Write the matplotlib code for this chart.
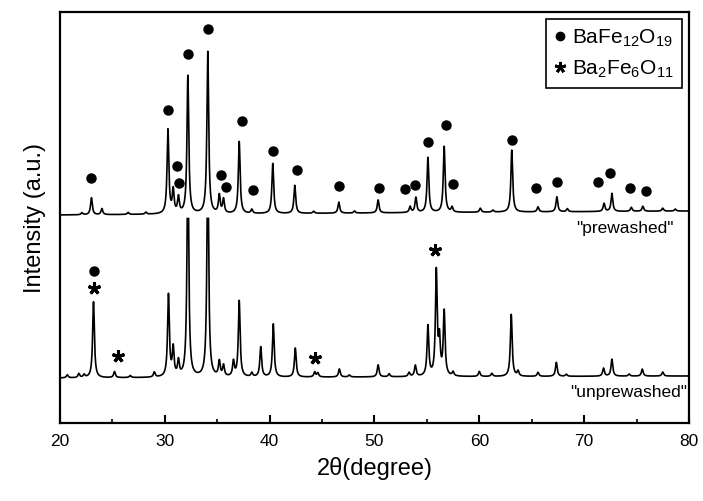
import numpy as np
import matplotlib
matplotlib.use("Agg")
import matplotlib.pyplot as plt
from matplotlib.lines import Line2D

plt.rcParams['font.family'] = ['Liberation Sans', 'DejaVu Sans']
plt.rcParams['mathtext.default'] = 'regular'

# peaks: position (2theta) and height above background (a.u.)
pre_pos = [22.1, 23.0, 24.0, 26.5, 28.2, 30.3, 30.8, 31.3, 32.2, 34.1, 35.2, 35.6,
           37.1, 38.3, 40.3, 42.4, 44.2, 46.6, 48.1, 50.35, 53.4, 53.95, 55.1,
           56.65, 57.4, 60.1, 61.3, 63.1, 65.6, 67.4, 68.4, 71.9, 72.65, 74.5,
           75.6, 77.5, 78.7]
pre_int = [2, 17, 6, 2, 2, 84, 23, 16, 138, 162, 18, 14,
           72, 4, 50, 28, 2, 11, 2, 13, 6, 15, 55,
           66, 5, 4, 2, 62, 5, 15, 3, 8, 18, 4,
           5, 3, 2]

unpre_pos = [20.7, 21.8, 22.3, 23.2, 25.2, 26.7, 29.0, 30.35, 30.8, 31.3, 32.2,
             34.1, 35.2, 35.6, 36.55, 37.1, 38.3, 39.15, 40.35, 42.45, 44.3,
             44.6, 46.65, 47.6, 50.35, 51.4, 53.3, 53.9, 55.1, 55.9, 56.2,
             56.65, 57.5, 60.0, 61.2, 63.05, 63.7, 65.6, 67.35, 68.3, 71.85,
             72.65, 74.3, 75.55, 77.5]
unpre_int = [3, 4, 3, 76, 6, 2, 5, 82, 28, 15, 220,
             220, 15, 11, 15, 76, 4, 30, 53, 29, 5,
             4, 8, 2, 12, 3, 4, 11, 50, 104, 34,
             64, 4, 5, 3, 62, 5, 4, 14, 2, 8,
             17, 2, 7, 4]

# background level at 20 and 80 degrees
pre_bg = [208, 212]
unpre_bg = [45, 47]

# phase markers
dot_x = [23.0, 30.3, 31.2, 31.35, 32.2, 34.1, 35.35, 35.85, 37.35, 38.45, 40.3,
         42.6, 46.6, 50.4, 52.9, 53.9, 55.1, 56.8, 57.5, 63.1, 65.4, 67.4,
         71.3, 72.5, 74.4, 75.9, 23.25]
dot_y = [245, 313, 257, 240, 369, 394, 248, 236, 302, 233, 272,
         253, 237, 235, 234, 238, 281, 298, 239, 283, 235, 241,
         241, 250, 235, 232, 152]
star_x = [23.25, 25.5, 44.3, 55.75]
star_y = [135, 67, 65, 173]

tt = np.arange(20, 80.001, 0.01)


def pattern(pos, inten, bg, w=0.1):
    y = np.interp(tt, [20, 80], bg)
    for p, h in zip(pos, inten):
        y = y + h / (1 + ((tt - p) / w) ** 2)
    return y


upper = pattern(pre_pos, pre_int, pre_bg)
lower = pattern(unpre_pos, unpre_int, unpre_bg)

fig = plt.figure(figsize=(7.03, 5.01), dpi=100)
ax = fig.add_axes([0.0853, 0.1557, 0.8947, 0.8203])

ax.plot(tt, lower, color='black', lw=1.2, zorder=2)
ax.fill_between(tt, upper, np.interp(tt, [20, 80], pre_bg) - 3,
                color='white', zorder=2.5, lw=0)
ax.plot(tt, upper, color='black', lw=1.2, zorder=3)

ax.plot(dot_x, dot_y, 'o', color='black', ms=6.5, zorder=4)
ax.plot(star_x, star_y, linestyle='none', marker=(5, 2, 0), color='black',
        ms=9, mew=2.2, zorder=4)

ax.text(78.5, 195, '"prewashed"', ha='right', va='center', fontsize=12.5)
ax.text(79.8, 30, '"unprewashed"', ha='right', va='center', fontsize=12.5)

ax.set_xlim(20, 80)
ax.set_ylim(0, 411)
ax.set_xticks(range(20, 81, 10))
ax.set_xticks(range(25, 80, 10), minor=True)
ax.set_yticks([])
ax.tick_params(axis='x', which='major', direction='in', length=6, width=1.5,
               labelsize=12.5, pad=8)
ax.tick_params(axis='x', which='minor', direction='in', length=3, width=1.2)
for s in ax.spines.values():
    s.set_linewidth(1.6)

ax.set_xlabel('2θ(degree)', fontsize=17, labelpad=6)
ax.set_ylabel('Intensity (a.u.)', fontsize=17, labelpad=10)

handles = [Line2D([], [], linestyle='none', marker='o', color='black', ms=6),
           Line2D([], [], linestyle='none', marker=(5, 2, 0), color='black',
                  ms=8, mew=2)]
leg = ax.legend(handles, ['BaFe$_{12}$O$_{19}$', 'Ba$_2$Fe$_6$O$_{11}$'],
                loc='upper right', fontsize=15, fancybox=False, framealpha=1,
                edgecolor='black', handlelength=0.6, handletextpad=0.25,
                borderpad=0.4, labelspacing=0.45, borderaxespad=0.35)
leg.get_frame().set_linewidth(1.2)

fig.savefig('out.png', dpi=100)
